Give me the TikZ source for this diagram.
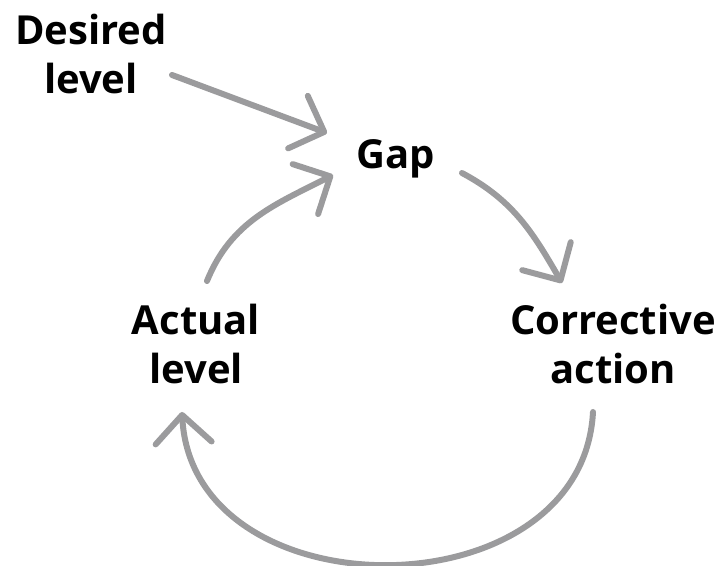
\documentclass[tikz,border=0pt]{standalone}
\usepackage{fontspec}
\setmainfont{Open Sans}
\usetikzlibrary{arrows.meta}
\definecolor{loopgray}{RGB}{155,155,157}

\begin{document}
\begin{tikzpicture}[x=0.5pt,y=0.5pt,
  lbl/.style={font=\fontsize{20}{24.5}\selectfont\bfseries, align=center, inner sep=0pt},
  flow/.style={draw=loopgray, line width=3pt, line cap=round,
    -{Straight Barb[length=14pt,width=28pt,line cap=round,line join=round]}}]
\useasboundingbox (0,0) rectangle (728,566);
\node[lbl](desired) at (91,512) {Desired\\level};
\node[lbl](gap) at (396,407) {Gap};
\node[lbl](actual) at (196,222) {Actual\\level};
\node[lbl](corrective) at (613,222) {Corrective\\action};
\draw[flow] ([shift={(81,-21)}]desired.center) -- ([shift={(-69,26)}]gap.center);
\draw[flow] ([shift={(11,63)}]actual.center) to[out=68,in=207] ([shift={(-63,-16)}]gap.center);
\draw[flow] ([shift={(66,-14)}]gap.center) to[out=-28,in=120] ([shift={(-51,61)}]corrective.center);
\draw[flow] ([shift={(-20,-68)}]corrective.center) to[out=-93,in=-87,looseness=1.27] ([shift={(-14,-68)}]actual.center);
\end{tikzpicture}
\end{document}
